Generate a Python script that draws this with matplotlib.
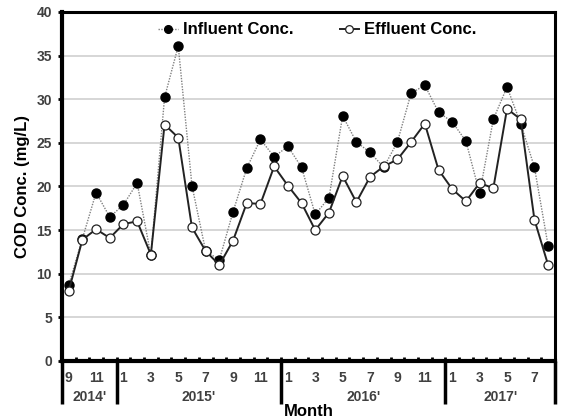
import matplotlib
matplotlib.use("Agg")
import matplotlib.pyplot as plt
import matplotlib.transforms as mtransforms

plt.rcParams['font.family'] = ['Liberation Sans', 'DejaVu Sans']
plt.rcParams['font.weight'] = 'bold'

# month numbers, Sep 2014 .. Aug 2017
months = [9, 10, 11, 12,
          1, 2, 3, 4, 5, 6, 7, 8, 9, 10, 11, 12,
          1, 2, 3, 4, 5, 6, 7, 8, 9, 10, 11, 12,
          1, 2, 3, 4, 5, 6, 7, 8]
years = ["2014'", "2015'", "2016'", "2017'"]
months_per_year = [4, 12, 12, 8]

influent = [8.7, 14.0, 19.3, 16.5, 17.9, 20.4, 12.1, 30.2, 36.1, 20.1, 12.6, 11.6,
            17.1, 22.1, 25.4, 23.4, 24.6, 22.2, 16.8, 18.7, 28.1, 25.1, 23.9, 22.2,
            25.1, 30.7, 31.6, 28.5, 27.4, 25.2, 19.2, 27.7, 31.4, 27.2, 22.2, 13.2]
effluent = [8.0, 13.9, 15.1, 14.1, 15.7, 16.0, 12.2, 27.1, 25.6, 15.3, 12.6, 11.0,
            13.8, 18.1, 18.0, 22.3, 20.1, 18.1, 15.0, 17.0, 21.2, 18.2, 21.1, 22.3,
            23.1, 25.1, 27.2, 21.9, 19.7, 18.3, 20.4, 19.8, 28.9, 27.7, 16.2, 11.0]

x = list(range(len(months)))

fig = plt.figure(figsize=(5.62, 4.2), dpi=100)
ax = fig.add_axes([0.110, 0.1405, 0.8775, 0.831])

ax.plot(x, influent, color='#808080', lw=1.0, ls=(0, (1, 1)), marker='o',
        ms=6.5, mfc='black', mec='black', label='Influent Conc.', zorder=3)
ax.plot(x, effluent, color='#222222', lw=1.4, ls='-', marker='o',
        ms=6.5, mfc='white', mec='#222222', mew=0.9, label='Effluent Conc.', zorder=4)

ax.set_xlim(-0.5, len(months) - 0.5)
ax.set_ylim(0, 40)
ax.set_yticks(range(0, 41, 5))
ax.yaxis.grid(True, color='#d0d0d0', lw=1.2)
ax.set_axisbelow(True)

for s in ax.spines.values():
    s.set_linewidth(2.2)
    s.set_color('black')
ax.spines['left'].set_linewidth(3)
ax.spines['bottom'].set_linewidth(3)

ax.tick_params(axis='y', labelsize=10, labelcolor='#404040', length=3, width=2,
               direction='out', pad=4)
for lab in ax.get_yticklabels():
    lab.set_fontweight('bold')

# month labels (odd months only), ticks at category boundaries
ax.set_xticks([i - 0.5 for i in x] + [len(x) - 0.5])
ax.set_xticklabels([])
ax.tick_params(axis='x', length=3, width=2, direction='in')
trans = mtransforms.blended_transform_factory(ax.transData, ax.transAxes)
for i, m in zip(x, months):
    if m % 2 == 1:
        ax.text(i, -0.05, str(m), transform=trans, ha='center', va='center',
                fontsize=10, color='#404040', fontweight='bold')

# year group labels and separators
start = 0
bounds = [-0.5]
for yr, n in zip(years, months_per_year):
    mid = start + (n - 1) / 2
    ax.text(mid, -0.103, yr, transform=trans, ha='center', va='center',
            fontsize=10, color='#404040', fontweight='bold')
    start += n
    bounds.append(start - 0.5)
for b in bounds:
    ax.plot([b, b], [0, -0.122], transform=trans, color='black', lw=2.5,
            clip_on=False, solid_capstyle='butt')

ax.set_ylabel('COD Conc. (mg/L)', fontsize=12, fontweight='bold', labelpad=5)
fig.text(0.55, 0.003, 'Month', ha='center', va='bottom', fontsize=12, fontweight='bold')

ax.legend(loc='center', ncol=2, frameon=False, markerscale=0.85,
          handlelength=1.15, columnspacing=2.8, handletextpad=0.3,
          bbox_to_anchor=(0.518, 1 - 18 / 349), prop={'weight': 'bold', 'size': 12})

fig.savefig('out.png', dpi=100)
